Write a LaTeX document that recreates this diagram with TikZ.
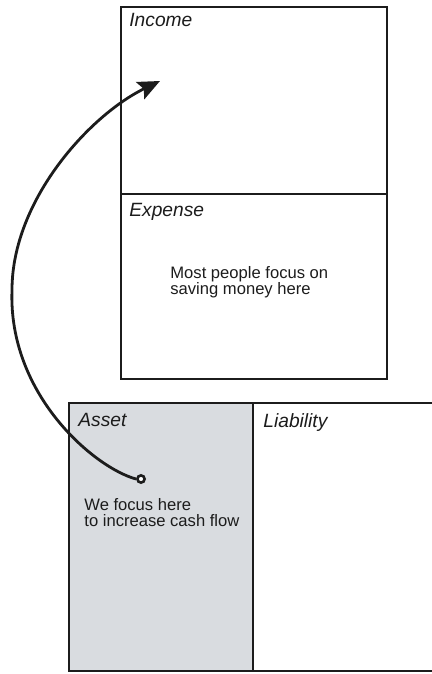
\documentclass[tikz,border=0pt]{standalone}
\usepackage{fontspec}
\setmainfont{Liberation Sans}
\usepackage{tikz}
\usetikzlibrary{arrows.meta, positioning}
\definecolor{assetgray}{HTML}{D9DCE0}
\definecolor{inkblack}{HTML}{1C1C1C}

\begin{document}
\begin{tikzpicture}[x=0.5pt, y=-0.5pt,
  quad/.style={rectangle, draw=inkblack, line width=1.1pt, inner sep=0pt, anchor=north west},
  lbl/.style={inner sep=0pt, font=\fontsize{9.6}{10}\selectfont\itshape, text=inkblack},
  note/.style={inner sep=0pt, align=left, font=\fontsize{8.3}{8.2}\selectfont, text=inkblack},
  flow/.style={-{Stealth[length=11pt, width=9.5pt, inset=2pt]}, line width=1.4pt, draw=inkblack}]

\clip (0,0) rectangle (432,674);

% income statement
\node[quad, minimum width=133pt, minimum height=93.5pt] (income) at (120,6) {};
\node[quad, minimum width=133pt, minimum height=92.5pt] (expense) at (120,193) {};
% balance sheet
\node[quad, fill=assetgray, minimum width=92pt, minimum height=134pt] (asset) at (68,402) {};
\node[quad, minimum width=96pt, minimum height=134pt] (liability) at (252,402) {};

\node[lbl, anchor=north west, below right=3.5pt and 4.5pt of income.north west] (incomelbl) {Income};
\node[lbl, anchor=north west, below right=5pt and 4.5pt of expense.north west] (expenselbl) {Expense};
\node[lbl, anchor=north west, below right=5.5pt and 5pt of asset.north west] (assetlbl) {Asset};
\node[lbl, anchor=north west, below right=5.5pt and 5.5pt of liability.north west] (liabilitylbl) {Liability};

\node[note, anchor=north west] (mostnote) at (170,266) {Most people focus on\\saving money here};
\node[circle, draw=inkblack, fill=white, line width=1.3pt, inner sep=0pt, minimum size=3.6pt] (dot) at (141,479) {};
\node[note, anchor=north west] (ournote) at (84,498) {We focus here\\to increase cash flow};

\coordinate (bend) at (12,290);
\coordinate (tip) at (160,81);
\draw[flow] (dot.west) .. controls (95,468) and (8,395) .. (bend)
  .. controls (12,200) and (90,115) .. (tip);
\end{tikzpicture}
\end{document}
